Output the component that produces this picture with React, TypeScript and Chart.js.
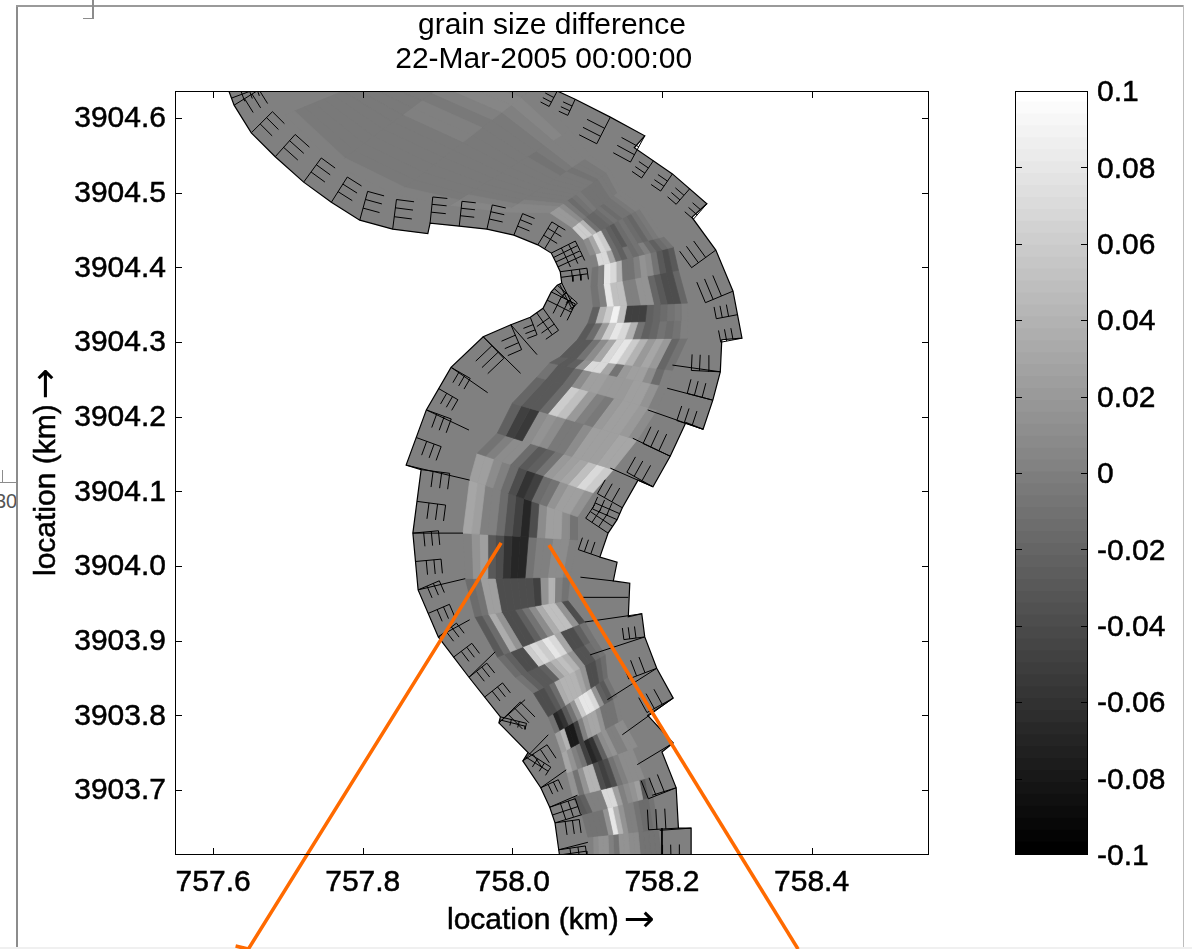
import React, { useEffect, useRef } from "react";
import { Chart, registerables } from "chart.js";

Chart.register(...registerables);

const FONT = "'Liberation Sans', Arial, sans-serif";
const xTicks = [757.6, 757.8, 758.0, 758.2, 758.4];
const yTicks = [3904.6, 3904.5, 3904.4, 3904.3, 3904.2, 3904.1, 3904.0, 3903.9, 3903.8, 3903.7];
const barTicks = [0.1, 0.08, 0.06, 0.04, 0.02, 0, -0.02, -0.04, -0.06, -0.08, -0.1];
const titleLines = ["grain size difference", "22-Mar-2005 00:00:00  "];
const axisLabel = "location (km)";
const axisArrow = "\u2192";

// river banks, km
const leftBank: number[][] = [
  [757.616, 3904.651], [757.621, 3904.636], [757.628, 3904.617], [757.651, 3904.580], [757.683, 3904.548], [757.721, 3904.514],
  [757.758, 3904.487], [757.796, 3904.463], [757.840, 3904.451], [757.887, 3904.445], [757.890, 3904.459], [757.929, 3904.455],
  [757.966, 3904.451], [758.002, 3904.443], [758.034, 3904.430], [758.052, 3904.419], [758.058, 3904.407], [758.064, 3904.394],
  [758.066, 3904.379], [758.060, 3904.376], [758.052, 3904.367], [758.041, 3904.345], [758.024, 3904.333], [757.998, 3904.323],
  [757.961, 3904.307], [757.918, 3904.266], [757.885, 3904.209], [757.858, 3904.135], [757.878, 3904.129], [757.867, 3904.044],
  [757.874, 3903.968], [757.901, 3903.905], [757.942, 3903.851], [757.984, 3903.798], [757.982, 3903.790], [758.021, 3903.750],
  [758.014, 3903.739], [758.038, 3903.703], [758.050, 3903.677], [758.057, 3903.656], [758.062, 3903.620], [758.064, 3903.606],
];
const rightBank: number[][] = [
  [758.240, 3903.606], [758.239, 3903.649], [758.222, 3903.649], [758.219, 3903.703], [758.200, 3903.751], [758.215, 3903.763],
  [758.181, 3903.800], [758.215, 3903.823], [758.193, 3903.863], [758.177, 3903.905], [758.173, 3903.936], [758.155, 3903.932],
  [758.157, 3903.977], [758.135, 3903.980], [758.140, 3904.005], [758.117, 3904.012], [758.128, 3904.044], [758.140, 3904.062],
  [758.147, 3904.078], [758.168, 3904.115], [758.188, 3904.106], [758.211, 3904.147], [758.232, 3904.192], [758.255, 3904.183],
  [758.268, 3904.222], [758.278, 3904.260], [758.280, 3904.303], [758.307, 3904.305], [758.295, 3904.368], [758.272, 3904.423],
  [758.240, 3904.467], [758.260, 3904.485], [758.214, 3904.525], [758.163, 3904.560], [758.177, 3904.576], [758.131, 3904.601],
  [758.084, 3904.625], [758.060, 3904.636], [758.037, 3904.648],
];

// grid lines seen right across the bank bands, km (x1, y1, x2, y2)
const meshSpans: number[][] = [
  [757.867, 3904.044, 757.934, 3904.044], [757.874, 3903.968, 757.937, 3903.983], [757.901, 3903.905, 757.943, 3903.928],
  [757.942, 3903.851, 757.977, 3903.885], [757.982, 3903.790, 758.017, 3903.821], [758.014, 3903.739, 758.048, 3903.774],
  [758.038, 3903.703, 758.072, 3903.727], [758.050, 3903.677, 758.087, 3903.693], [758.057, 3903.656, 758.093, 3903.667],
  [758.062, 3903.620, 758.101, 3903.630], [758.135, 3903.980, 758.091, 3903.985], [758.155, 3903.958, 758.091, 3903.958],
  [758.173, 3903.936, 758.097, 3903.925], [758.177, 3903.905, 758.104, 3903.881], [758.193, 3903.863, 758.127, 3903.821],
  [758.215, 3903.823, 758.147, 3903.774], [758.215, 3903.763, 758.167, 3903.734], [758.219, 3903.703, 758.187, 3903.693],
  [758.239, 3903.649, 758.197, 3903.646], [758.200, 3903.649, 758.200, 3903.606], [758.188, 3904.106, 758.131, 3904.131],
  [758.255, 3904.183, 758.181, 3904.209], [758.211, 3904.147, 758.161, 3904.171], [758.278, 3904.260, 758.214, 3904.269],
  [758.268, 3904.222, 758.207, 3904.238], [757.961, 3904.307, 758.011, 3904.258], [757.918, 3904.266, 757.967, 3904.232],
  [757.885, 3904.209, 757.942, 3904.182], [757.858, 3904.135, 757.943, 3904.115], [757.998, 3904.323, 758.033, 3904.283],
];

// sections of the active channel band, km
const bandLeft: number[][] = [
  [757.696, 3904.604], [757.763, 3904.537], [757.843, 3904.497], [757.917, 3904.483], [757.990, 3904.474], [758.050, 3904.473],
  [758.080, 3904.453], [758.095, 3904.437], [758.104, 3904.416], [758.107, 3904.400], [758.105, 3904.374], [758.108, 3904.347],
  [758.101, 3904.325], [758.087, 3904.303], [758.064, 3904.280], [758.050, 3904.272], [758.033, 3904.253], [758.000, 3904.218],
  [757.980, 3904.178], [757.953, 3904.151], [757.943, 3904.115], [757.934, 3904.044], [757.937, 3903.983], [757.950, 3903.932],
  [757.980, 3903.878], [758.004, 3903.851], [758.028, 3903.830], [758.048, 3903.798], [758.057, 3903.776], [758.066, 3903.750],
  [758.073, 3903.723], [758.081, 3903.691], [758.093, 3903.667], [758.101, 3903.637], [758.101, 3903.606],
];
const bandRight: number[][] = [
  [757.877, 3904.678], [757.943, 3904.671], [758.024, 3904.637], [758.077, 3904.584], [758.104, 3904.550], [758.131, 3904.530],
  [758.144, 3904.503], [758.175, 3904.481], [758.202, 3904.441], [758.215, 3904.427], [758.222, 3904.396], [758.234, 3904.352],
  [758.235, 3904.329], [758.234, 3904.305], [758.214, 3904.262], [758.207, 3904.240], [758.193, 3904.209], [758.167, 3904.169],
  [758.135, 3904.129], [758.108, 3904.098], [758.087, 3904.066], [758.087, 3904.035], [758.077, 3903.985], [758.074, 3903.954],
  [758.097, 3903.925], [758.111, 3903.901], [758.124, 3903.881], [758.127, 3903.851], [758.140, 3903.825], [758.147, 3903.794],
  [758.167, 3903.758], [758.184, 3903.717], [758.188, 3903.691], [758.195, 3903.647], [758.200, 3903.606],
];

// grain size difference per cell, in hundredths, left to right across the band
const cellDiff: number[][] = [
  [0, -0.5, -0.5, -0.5, -0.5, -0.5, -0.5, -0.5, -0.5, -0.5, -0.5, 0, 0, 0],
  [0, -0.5, -0.5, -0.5, -0.5, -0.5, -0.5, 0, 0, -0.5, 0, 0.5, 0.5, 0],
  [0, -0.5, -0.5, -0.5, -0.5, -0.5, -0.5, -0.5, -0.5, -0.5, -0.5, 0, 0.5, 0],
  [0.5, 0, -0.5, -0.5, -0.5, -0.5, -0.5, -0.5, -0.5, -1, -0.5, 0, 0, 0],
  [0.5, 0.5, 0, -0.5, -0.5, -0.5, -0.5, -0.5, -0.5, -0.5, -1, -0.5, -0.5, 0],
  [2, 2, 1, -0.5, -1.5, -1, -0.5, -1, -1, -1, -1, -0.5, -0.5, 0],
  [6, 6, 4, -1, -2, -2, -1.5, -1, -1.5, -1, -1, -0.5, 0, 0],
  [1, 3, 7, 6, -1.5, -2.5, -3, -1.5, -1, -1.5, -2, -1, -0.5, 0],
  [0, 7, 7, 3, -1.5, -2.5, -1, -1.5, -1, 0, -1.5, -2.5, -1.5, -1],
  [-1, 0, 8, 7, 4, -1, -1, 0, 1.5, 1, -1, -3, -4, -3],
  [-1, 0, 8, 5, 5, 0, 0, 1.5, 1.5, -2, -3, -4, -4, -2],
  [-2.5, 4, 6, 9, 5, -5, -5, -5, -2.5, -2, -1.5, -1, -0.5, 0],
  [-3, -1.5, 2, 6, 8, 7, 4, -1, -2.5, -2, -1, -1.5, -1, 0],
  [-3, -3, -1, 1, 3, 7, 8, 6, 4, 2, 3, 2, -2, -1],
  [-2.5, -3, -2.5, 1.5, 7, 7, 3, -1, 2, 2.5, 2.5, 1, -1.5, 0],
  [-1, -3, -3, -1.5, 1, 2.5, 2.5, 2, 2, 2, 2.5, 2.5, 1.5, 0],
  [-2, -3, -3, -1.5, 6, 5, 2, 0, -0.5, 2, 2.5, 2.5, 2, 1],
  [-2.5, -5, -5.5, 1, 1.5, 1, -0.5, -0.5, 1, 2.5, 2.5, 2.5, 3, 3],
  [-1, 0, 1, 1, -1.5, -3, -2.5, -1, 2, 2.5, 3, 5, 7, 6],
  [2.5, 2.5, 1, 0, -1.5, -4, -6, -5, -1.5, -1, 1.5, 2.5, 2.5, 1.5],
  [3, 2.5, 0, 0, -1.5, -3.5, -5, -7, -4, 1, 2.5, 2.5, 1, -1],
  [0, 1.5, 2.5, -3, -4, -6, -7, -7, -1, 0, 0, 1, 1, 0],
  [-1.5, -1, 2.5, 2.5, -4, -4, -4, -4, -4, -5, 1.5, 4, 0, -1],
  [-3, -1.5, 3.5, 1.5, -4, -4, -2.5, -1, 1, 3.5, 5, 5, 1.5, -4],
  [-1.5, -2.5, -4, -4, 6, 7, 6, 8, 7, 3, -4, -4, -2.5, -1],
  [-1, -2.5, -3, -3, -2.5, 2.5, 4, 5, 4, 1.5, -3.5, -3.5, -1.5, -1],
  [-4, -4, -3, -1.5, 3.5, 4, 4, 4, 3, 1.5, -4, -4, -2.5, -1.5],
  [-1, -7, -6, -3, -1, 1.5, 6, 8, 8, 7, 1.5, -2.5, -3, -1],
  [2.5, 4, -8, -8, -5, 0, 2.5, 3, 3, 1.5, -1, -1, -1, 0],
  [3, 1.5, 0, -1, -5, -7, -6, -2.5, 1, 1.5, 0, 0, 1, 1],
  [1.5, -1, 1.5, 4, 4, -4, -5, -4, -1, 0, 1, 1, 1, 0],
  [-3, -2.5, 0, 0, 0, 7, 7, 2.5, 0, 1, 1.5, 2.5, -3, -1.5],
  [-1, -1, -1, -1, 1.5, 8, 4, 1.5, 0, 0, -1, -1.5, -1.5, -1],
  [0, 1, 1.5, 1.5, 0, -1, 1.5, 1.5, 1, 1, -1, -1, -1, -1],
];

const orangeLeft = [[757.985, 3904.031], [757.647, 3903.487], [757.630, 3903.491]];
const orangeRight = [[758.049, 3904.028], [758.382, 3903.487]];

const grayLevels = [
  0, 4, 8, 12, 16, 20, 24, 28, 32, 36, 40, 45, 49, 53, 57, 61, 65, 69, 73, 77, 81, 85, 89, 93, 97, 101, 105, 109, 113, 117, 121, 125,
  130, 134, 138, 142, 146, 150, 154, 158, 162, 166, 170, 174, 178, 182, 186, 190, 194, 198, 202, 206, 210, 215, 219, 223, 227, 231, 235, 239, 243, 247, 251, 255,
];

const toGray = (h: number) => {
  const g = Math.max(0, Math.min(255, Math.round(((h + 10) / 20) * 255)));
  return `rgb(${g},${g},${g})`;
};
const pt = (p: number[]) => ({ x: p[0], y: p[1] });
const mix = (a: number[], b: number[], t: number) => [a[0] + (b[0] - a[0]) * t, a[1] + (b[1] - a[1]) * t];

function meshMarks(bank: number[][]) {
  const out: { x: number | null; y: number | null }[] = [];
  for (let i = 0; i + 1 < bank.length; i++) {
    const p = bank[i], q = bank[i + 1];
    const dx = q[0] - p[0], dy = q[1] - p[1];
    const len = Math.hypot(dx, dy);
    const cosTo = (a: number[] | undefined, b: number[] | undefined) => {
      if (!a || !b) return 1;
      const ax = b[0] - a[0], ay = b[1] - a[1];
      return (ax * dx + ay * dy) / (Math.hypot(ax, ay) * len);
    };
    if (cosTo(bank[i - 1], p) < 0.3 && cosTo(q, bank[i + 2]) < 0.3) continue;
    const parts = len < 0.025 ? 2 : len > 0.06 ? 2 : 1;
    const nx = -dy / len, ny = dx / len;
    const piece = len / parts;
    const w = piece < 0.02 ? 0.036 : Math.min(0.04, piece * 0.9);
    const teeth = piece < 0.02 ? 1 : 0.5;
    for (let k = 0; k < parts; k++) {
      const sxy = mix(p, q, k / parts);
      out.push(pt(sxy), { x: sxy[0] + nx * w, y: sxy[1] + ny * w }, { x: null, y: null });
      for (const f of [0.42, 0.72, 1]) {
        const sx = sxy[0] + nx * w * f, sy = sxy[1] + ny * w * f;
        out.push({ x: sx, y: sy }, { x: sx + (dx / parts) * teeth, y: sy + (dy / parts) * teeth }, { x: null, y: null });
      }
    }
  }
  return out;
}

function buildDatasets() {
  const base = { showLine: true, pointRadius: 0, tension: 0 };
  const cells: any[] = [];
  cellDiff.forEach((row, r) => {
    row.forEach((v, c) => {
      const n = row.length;
      const a = mix(bandLeft[r], bandRight[r], c / n);
      const b = mix(bandLeft[r], bandRight[r], (c + 1) / n);
      const d = mix(bandLeft[r + 1], bandRight[r + 1], (c + 1) / n);
      const e = mix(bandLeft[r + 1], bandRight[r + 1], c / n);
      const col = toGray(v);
      cells.push({ ...base, data: [a, b, d, e, a].map(pt), fill: "shape", backgroundColor: col, borderColor: col, borderWidth: 0.7 });
    });
  });
  const spans: { x: number | null; y: number | null }[] = [];
  meshSpans.forEach((s) => spans.push({ x: s[0], y: s[1] }, { x: s[2], y: s[3] }, { x: null, y: null }));
  return [
    { ...base, data: orangeLeft.map(pt), borderColor: "#ff6a00", borderWidth: 3.6, clip: false, fill: false },
    { ...base, data: orangeRight.map(pt), borderColor: "#ff6a00", borderWidth: 3.6, clip: false, fill: false },
    { ...base, data: [...meshMarks(leftBank), ...meshMarks(rightBank), ...spans], borderColor: "#000", borderWidth: 1, fill: false },
    { ...base, data: [...leftBank, ...rightBank, leftBank[0]].map(pt), borderColor: "#000", borderWidth: 1.2, fill: false },
    ...cells,
    { ...base, data: [...leftBank, ...rightBank, leftBank[0]].map(pt), fill: "shape", backgroundColor: "#808080", borderColor: "#808080", borderWidth: 0 },
  ];
}

const frameTicks = (xs: number[] | null, ys: number[] | null, len: number) => ({
  id: "frameTicks",
  afterDraw(chart: any) {
    const { ctx, chartArea: a, scales } = chart;
    ctx.save();
    ctx.strokeStyle = "#000";
    ctx.lineWidth = 1;
    ctx.beginPath();
    (xs || []).forEach((v) => {
      const p = Math.round(scales.x.getPixelForValue(v)) + 0.5;
      ctx.moveTo(p, a.bottom); ctx.lineTo(p, a.bottom - len);
      ctx.moveTo(p, a.top); ctx.lineTo(p, a.top + len);
    });
    (ys || []).forEach((v) => {
      const p = Math.round(scales.y.getPixelForValue(v)) + 0.5;
      ctx.moveTo(a.left, p); ctx.lineTo(a.left + len, p);
      ctx.moveTo(a.right, p); ctx.lineTo(a.right - len, p);
    });
    ctx.stroke();
    ctx.strokeRect(a.left + 0.5, a.top + 0.5, a.width - 1, a.height - 1);
    ctx.restore();
  },
});

const axisTitles = {
  id: "axisTitles",
  afterDraw(chart: any) {
    const { ctx } = chart;
    const one = (cx: number, cy: number, rot: number) => {
      ctx.save();
      ctx.translate(cx, cy);
      ctx.rotate(rot);
      ctx.fillStyle = "#000";
      ctx.strokeStyle = "#000";
      ctx.lineWidth = 0.5;
      ctx.textBaseline = "middle";
      ctx.textAlign = "left";
      ctx.font = `30px ${FONT}`;
      const w = ctx.measureText(axisLabel).width;
      ctx.fillText(axisLabel, -104, 0);
      ctx.strokeText(axisLabel, -104, 0);
      ctx.font = "37px 'DejaVu Sans'";
      ctx.fillText(axisArrow, -104 + w + 5, 0);
      ctx.restore();
    };
    one(551, 921, 0);
    one(47, 472, -Math.PI / 2);
  },
};

export default function App() {
  const mainRef = useRef<HTMLCanvasElement>(null);
  const barRef = useRef<HTMLCanvasElement>(null);

  useEffect(() => {
    document.body.style.margin = "0";
    const tickFont = { family: FONT, size: 30 };
    const main = new Chart(mainRef.current!, {
      type: "scatter",
      data: { datasets: buildDatasets() as any },
      plugins: [frameTicks(xTicks, yTicks, 7), axisTitles],
      options: {
        responsive: false,
        animation: false,
        events: [],
        layout: { padding: { right: 263, left: 0, top: 0, bottom: 0 } },
        plugins: {
          legend: { display: false },
          tooltip: { enabled: false },
          title: {
            display: true,
            text: titleLines,
            fullSize: false,
            color: "#000",
            font: { family: FONT, size: 30, lineHeight: 34 / 30, weight: "normal" },
            padding: { top: 9, bottom: 14 },
          },
        },
        scales: {
          x: {
            type: "linear",
            min: 757.549,
            max: 758.557,
            afterBuildTicks: (s: any) => { s.ticks = xTicks.map((value) => ({ value })); },
            afterFit: (s: any) => { s.height = 94; },
            grid: { display: false, drawTicks: false },
            border: { display: false },
            ticks: { color: "#000", font: tickFont, padding: 10, maxRotation: 0, autoSkip: false, textStrokeColor: "#000", textStrokeWidth: 0.5, callback: (v: any) => Number(v).toFixed(1) },
          },
          y: {
            type: "linear",
            min: 3903.613,
            max: 3904.636,
            afterBuildTicks: (s: any) => { s.ticks = yTicks.map((value) => ({ value })); },
            afterFit: (s: any) => { s.width = 175; },
            grid: { display: false, drawTicks: false },
            border: { display: false },
            ticks: { color: "#000", font: tickFont, padding: 9, labelOffset: 1, autoSkip: false, textStrokeColor: "#000", textStrokeWidth: 0.5, callback: (v: any) => Number(v).toFixed(1) },
          },
        },
      } as any,
    });

    const step = 0.2 / grayLevels.length;
    const bar = new Chart(barRef.current!, {
      type: "bar",
      data: {
        labels: [""],
        datasets: grayLevels.map((g, i) => ({
          data: [[-0.1 + i * step, -0.1 + (i + 1) * step + 0.0003]],
          backgroundColor: `rgb(${g},${g},${g})`,
          borderWidth: 0,
          barPercentage: 1,
          categoryPercentage: 1,
          grouped: false,
        })) as any,
      },
      plugins: [frameTicks(null, barTicks.slice(1, -1), 7)],
      options: {
        responsive: false,
        animation: false,
        events: [],
        layout: { padding: { left: 15, top: 91, bottom: 94, right: 0 } },
        plugins: { legend: { display: false }, tooltip: { enabled: false } },
        scales: {
          x: { display: false, grid: { display: false } },
          y: {
            position: "right",
            min: -0.1,
            max: 0.1,
            afterBuildTicks: (s: any) => { s.ticks = barTicks.map((value) => ({ value })); },
            afterFit: (s: any) => { s.width = 104; },
            grid: { display: false, drawTicks: false },
            border: { display: false },
            ticks: { color: "#000", font: tickFont, padding: 9, labelOffset: 2, autoSkip: false, textStrokeColor: "#000", textStrokeWidth: 0.5, callback: (v: any) => String(Number(Number(v).toFixed(2))) },
          },
        },
      } as any,
    });
    return () => { main.destroy(); bar.destroy(); };
  }, []);

  const line = (left: number, top: number, width: number, height: number, background = "#8c8c8c") => (
    <div style={{ position: "absolute", left, top, width, height, background }} />
  );

  return (
    <div style={{ position: "relative", width: 1192, height: 949, overflow: "hidden", background: "#fff" }}>
      {line(16, 5, 2, 944)}
      {line(16, 5, 1168, 2, "#9a9a9a")}
      {line(1183, 5, 1, 944, "#bdbdbd")}
      {line(0, 947, 1192, 2, "#f0f0f0")}
      {line(92, 0, 2, 19)}
      {line(83, 18, 10, 1)}
      {line(0, 482, 17, 1)}
      {line(2, 470, 1, 12)}
      <div style={{ position: "absolute", left: 0, top: 490, width: 16, height: 24, overflow: "hidden" }}>
        <span style={{ position: "absolute", left: -5, top: 0, font: `20px ${FONT}`, color: "#555" }}>30</span>
      </div>
      <canvas ref={mainRef} width={1192} height={949} style={{ position: "absolute", left: 0, top: 0 }} />
      <canvas ref={barRef} width={192} height={949} style={{ position: "absolute", left: 1000, top: 0 }} />
    </div>
  );
}
